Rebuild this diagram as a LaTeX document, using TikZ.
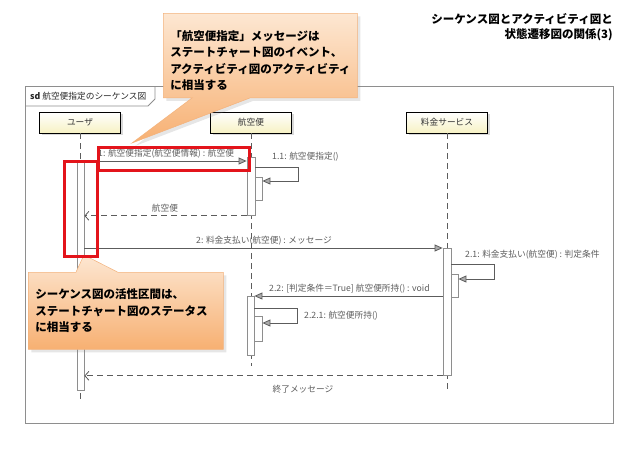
\documentclass[tikz,border=0pt]{standalone}
\usepackage{fontspec}
\setmainfont{Noto Sans CJK JP}
\usepackage{tikz}
\usetikzlibrary{positioning,arrows.meta,shapes.callouts,shadows,calc}
\usepackage{xcolor}
\definecolor{frameline}{HTML}{8E8E8E}
\definecolor{msgline}{HTML}{5C5C5C}
\definecolor{headfill}{HTML}{F7F2C4}
\definecolor{notetop}{HTML}{FDE7D2}
\definecolor{notebottom}{HTML}{F7B072}
\definecolor{noteedge}{HTML}{F3B27C}
\definecolor{mark}{HTML}{E3141B}
\newcommand{\lblfont}{\fontsize{8.7}{9.5}\selectfont}
\newcommand{\notefont}{\bfseries\fontsize{11.5}{16.5}\selectfont}

\tikzset{
  head/.style={draw=black, line width=0.9pt, top color=white, bottom color=headfill,
    minimum width=81pt, minimum height=21pt, inner sep=0pt, text=black!80,
    font=\fontsize{8.7}{9}\selectfont,
    drop shadow={shadow xshift=2pt, shadow yshift=-2pt, opacity=0.3}},
  lifeline/.style={draw=msgline, line width=0.8pt, dash pattern=on 6pt off 4pt},
  actbar/.style={draw=frameline, fill=white, line width=0.8pt, minimum width=8pt,
    inner sep=0pt, anchor=north},
  call/.style={draw=msgline, line width=0.8pt,
    -{Triangle[length=8pt,width=7pt,fill=gray!65]}},
  reply/.style={draw=msgline, line width=0.8pt, dash pattern=on 6pt off 4pt,
    -{Straight Barb[length=4pt,width=9pt]}},
  lbl/.style={font=\lblfont, text=msgline, inner sep=1pt},
  note/.style={rectangle callout, draw=noteedge, line width=0.5pt,
    top color=notetop, bottom color=notebottom, align=left, font=\notefont,
    inner sep=7pt, anchor=north west,
    drop shadow={shadow xshift=3pt, shadow yshift=-3pt, opacity=0.2}},
  redmark/.style={draw=mark, line width=2.5pt, inner sep=0pt, anchor=north west}
}

\begin{document}
\begin{tikzpicture}[x=1pt,y=-1pt]
  \useasboundingbox (0,0) rectangle (638,451);

  \node[anchor=north east, align=right, inner sep=0pt,
        font=\bfseries\fontsize{11.5}{15}\selectfont] (title) at (613,13)
        {シーケンス図とアクティビティ図と\\状態遷移図の関係(3)};

  % frame
  \node[draw=frameline, line width=1pt, minimum width=588pt, minimum height=337pt,
        anchor=north west, inner sep=0pt] (frame) at (25,86) {};
  \draw[frameline, line width=0.8pt] (frame.north west |- 0,106) -- (148,106)
        -- (155,99) -- (155,86);
  \node[lbl, anchor=west, text=black!85] (frametag) at (29,96)
        {\textbf{sd} 航空便指定のシーケンス図};

  % lifelines
  \node[head] (user) at (80,122.5) {ユーザ};
  \node[head] (flight) at (251,122.5) {航空便};
  \node[head] (fare) at (447,122.5) {料金サービス};
  \coordinate (userend) at (80,401);
  \coordinate (flightend) at (251,366);
  \coordinate (fareend) at (447,389);
  \draw[lifeline] (user) -- (userend);
  \draw[lifeline] (flight) -- (flightend);
  \draw[lifeline] (fare) -- (fareend);

  % activations
  \node[actbar, minimum width=7pt, minimum height=230pt] (ua) at (80.5,160) {};
  \node[actbar, minimum height=58pt] (fa1) at (251,157) {};
  \node[actbar, minimum width=7pt, minimum height=23pt] (fa1n) at (258.5,177) {};
  \node[actbar, minimum height=127pt] (sa) at (447,248) {};
  \node[actbar, minimum width=7pt, minimum height=23pt] (san) at (454.5,274) {};
  \node[actbar, minimum width=7pt, minimum height=59pt] (fa2) at (250.5,296) {};
  \node[actbar, minimum height=25pt] (fa2n) at (258,316) {};

  % messages
  \draw[call] (ua.east |- 0,161) -- (fa1.west |- 0,161);
  \node[lbl, anchor=west] (m1) at (97,154) {1: 航空便指定(航空便情報) : 航空便};

  \draw[call] (fa1.east |- 0,167) -- ++(43,0) -- ++(0,14) -- (fa1n.east |- 0,181);
  \node[lbl, anchor=west] (m11) at (271,157) {1.1: 航空便指定()};

  \draw[reply] (fa1.south west) -- (ua.east |- fa1.south);
  \node[lbl] (r1) at (165,208) {航空便};

  \draw[call] (ua.east |- sa.north) -- (sa.north west);
  \node[lbl] (m2) at (264,241) {2: 料金支払い(航空便) : メッセージ};

  \draw[call] (sa.east |- 0,264) -- ++(43,0) -- ++(0,15) -- (san.east |- 0,279);
  \node[lbl, anchor=west] (m21) at (464,255) {2.1: 料金支払い(航空便) : 判定条件};

  \draw[call] (sa.west |- fa2.north) -- (fa2.north east);
  \node[lbl, anchor=west] (m22) at (268,289) {2.2: [判定条件＝True] 航空便所持() : void};

  \draw[call] (fa2.east |- 0,308) -- ++(43,0) -- ++(0,15) -- (fa2n.east |- 0,323);
  \node[lbl, anchor=west] (m221) at (303,316) {2.2.1: 航空便所持()};

  \draw[reply] (sa.south west) -- (ua.east |- sa.south);
  \node[lbl] (r2) at (303,389) {終了メッセージ};

  % notes
  \node[note, minimum width=194pt, minimum height=75pt, text width=180pt,
        callout absolute pointer={(132,143)}, callout pointer width=58pt] (note1) at (163,13)
        {\rule{0pt}{20pt}「航空便指定」メッセージは\\ステートチャート図のイベント、\\アクティビティ図のアクティビティ\\に相当する};
  \node[note, minimum width=195pt, minimum height=77pt, text width=181pt,
        callout absolute pointer={(84,255)}, callout pointer width=42pt] (note2) at (28,272)
        {シーケンス図の活性区間は、\\ステートチャート図のステータス\\に相当する};

  \node[redmark, minimum width=151pt, minimum height=23pt] (mark1) at (97,146) {};
  \node[redmark, minimum width=33pt, minimum height=95pt] (mark2) at (63,160) {};
\end{tikzpicture}
\end{document}
